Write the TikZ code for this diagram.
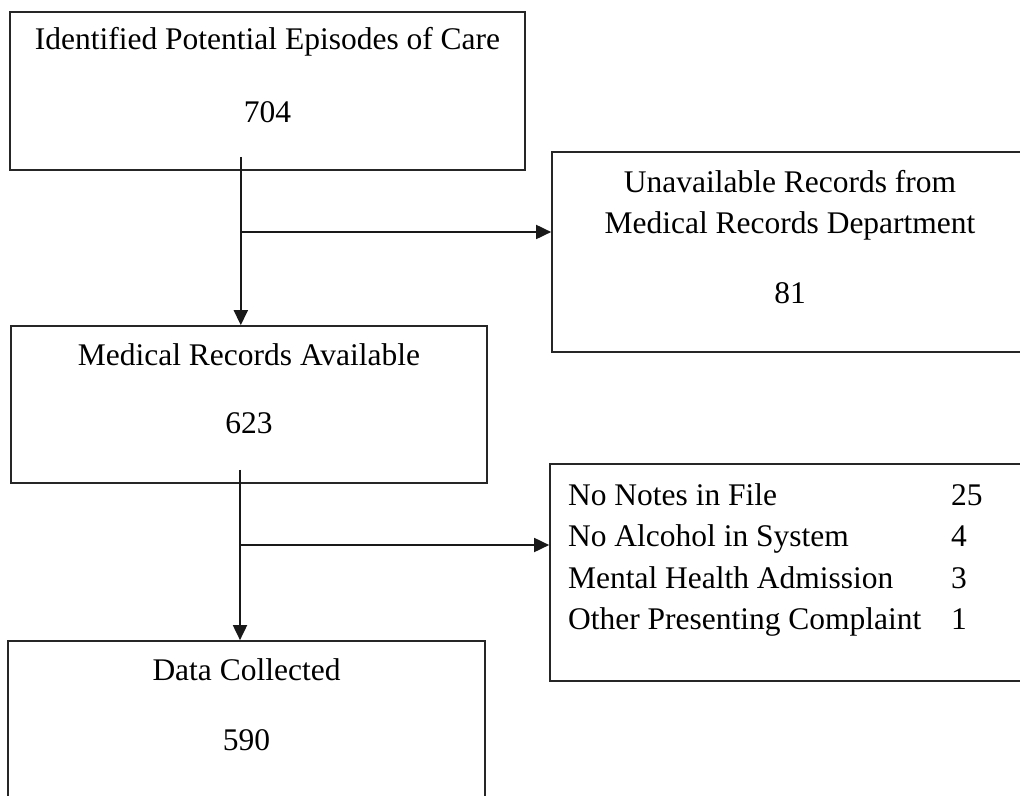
\documentclass[tikz,border=0pt]{standalone}
\usepackage{fontspec}
\setmainfont{Liberation Serif}
\usetikzlibrary{arrows.meta}

\begin{document}
\begin{tikzpicture}[
    stage/.style={draw=black!85, line width=1.2pt, inner sep=2pt, align=center,
      minimum width=11.9cm, minimum height=3.925cm},
    flow/.style={line width=1.3pt, black!90, -{Triangle[length=0.375cm, width=0.35cm]}},
    font=\fontsize{22.4}{29.2}\selectfont,
  ]
    \clip (0, 0) rectangle (25.5, -19.9);
    % main column
    \node[stage, minimum width=12.875cm, minimum height=3.95cm] (care) at (6.6875, -2.275) {%
      Identified Potential Episodes of Care\\[0.8cm]
      704\rule[-0.81cm]{0pt}{0.81cm}
    };
    \node[stage] (avail) at (6.225, -10.1125) {%
      Medical Records Available\\[0.675cm]
      623\rule[-0.81cm]{0pt}{0.81cm}
    };
    \node[stage, minimum width=11.925cm] (data) at (6.1625, -17.9875) {%
      Data Collected\\[0.725cm]
      590\rule[-0.76cm]{0pt}{0.76cm}
    };
    % exclusions
    \node[stage, minimum height=5cm] (unavail) at (19.75, -6.3) {%
      Unavailable Records from\\
      Medical Records Department\\[0.725cm]
      81\rule[-0.76cm]{0pt}{0.76cm}
    };
    \node[stage, minimum width=11.95cm, minimum height=5.425cm] (excl) at (19.725, -14.3125) {%
      \begin{tabular}{@{}p{9.575cm}@{}p{1.275cm}@{}}
        No Notes in File & 25\\
        No Alcohol in System & 4\\
        Mental Health Admission & 3\\
        Other Presenting Complaint & 1\\[0.66cm]
      \end{tabular}
    };
    \coordinate (split1) at (6.02, -5.8);
    \coordinate (split2) at (6.0, -13.625);
    \draw[flow, shorten <=-0.35cm] (care.south -| split1) -- (avail.north -| split1);
    \draw[flow] (split1) -- (unavail.west |- split1);
    \draw[flow, shorten <=-0.35cm] (avail.south -| split2) -- (data.north -| split2);
    \draw[flow] (split2) -- (excl.west |- split2);
\end{tikzpicture}
\end{document}
